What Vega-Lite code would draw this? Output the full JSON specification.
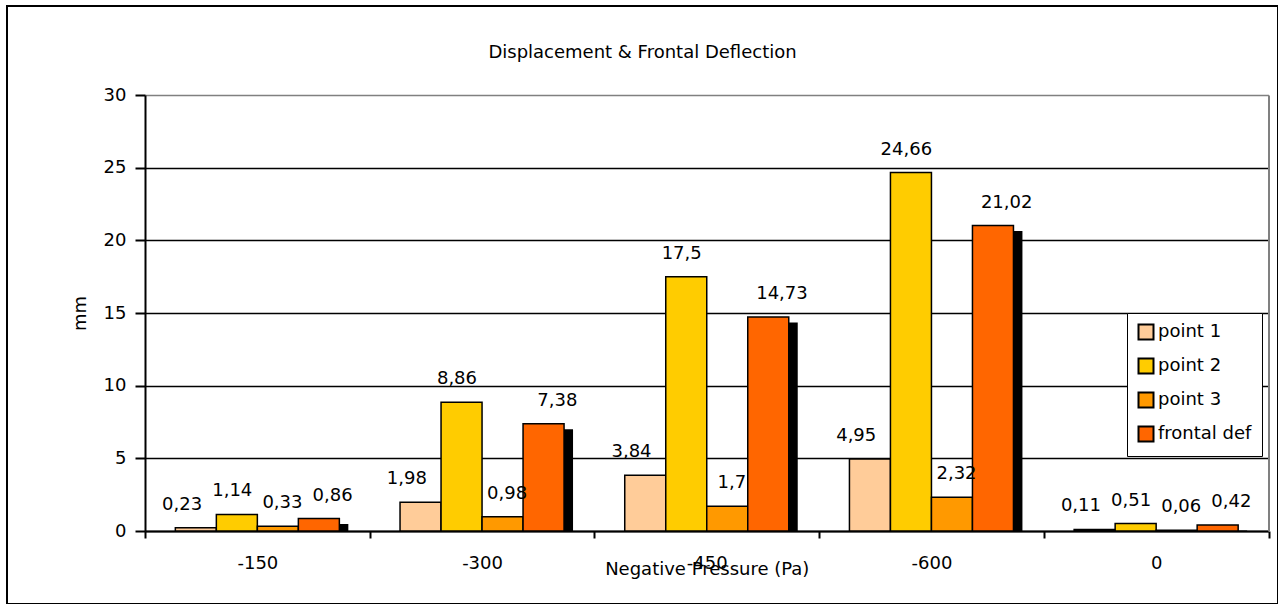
{
  "$schema": "https://vega.github.io/schema/vega-lite/v6.json",
  "autosize": {"type": "none"},
  "padding": {"left": 7, "top": 6, "right": 0, "bottom": 0},
  "width": 1271,
  "height": 598,
  "background": "white",
  "title": {
    "text": "Displacement & Frontal Deflection",
    "fontSize": 18,
    "fontWeight": "normal",
    "color": "black",
    "anchor": "middle",
    "frame": "group",
    "baseline": "alphabetic",
    "offset": 0,
    "dy": 70
  },
  "config": {
    "font": "DejaVu Sans",
    "view": {"stroke": "black", "strokeWidth": 2, "fill": "white"}
  },
  "data": {
    "values": [
      {"pressure": "-150", "series": "point 1", "value": 0.23},
      {"pressure": "-150", "series": "point 2", "value": 1.14},
      {"pressure": "-150", "series": "point 3", "value": 0.33},
      {"pressure": "-150", "series": "frontal def", "value": 0.86},
      {"pressure": "-300", "series": "point 1", "value": 1.98},
      {"pressure": "-300", "series": "point 2", "value": 8.86},
      {"pressure": "-300", "series": "point 3", "value": 0.98},
      {"pressure": "-300", "series": "frontal def", "value": 7.38},
      {"pressure": "-450", "series": "point 1", "value": 3.84},
      {"pressure": "-450", "series": "point 2", "value": 17.5},
      {"pressure": "-450", "series": "point 3", "value": 1.7},
      {"pressure": "-450", "series": "frontal def", "value": 14.73},
      {"pressure": "-600", "series": "point 1", "value": 4.95},
      {"pressure": "-600", "series": "point 2", "value": 24.66},
      {"pressure": "-600", "series": "point 3", "value": 2.32},
      {"pressure": "-600", "series": "frontal def", "value": 21.02},
      {"pressure": "0", "series": "point 1", "value": 0.11},
      {"pressure": "0", "series": "point 2", "value": 0.51},
      {"pressure": "0", "series": "point 3", "value": 0.06},
      {"pressure": "0", "series": "frontal def", "value": 0.42}
    ]
  },
  "encoding": {
    "x": {
      "field": "pressure",
      "type": "nominal",
      "sort": ["-150", "-300", "-450", "-600", "0"],
      "scale": {"range": [138, 1261.5], "paddingInner": 0, "paddingOuter": 0},
      "axis": {
        "orient": "bottom",
        "offset": -73,
        "labelAngle": 0,
        "tickBand": "extent",
        "tickSize": 7,
        "tickWidth": 2,
        "tickColor": "black",
        "domainColor": "black",
        "domainWidth": 2,
        "grid": false,
        "labelFontSize": 18,
        "labelColor": "black",
        "labelPadding": 16,
        "title": "Negative Pressure (Pa)",
        "titleFontSize": 18,
        "titleFontWeight": "normal",
        "titleColor": "black",
        "titlePadding": -12
      }
    }
  },
  "layer": [
    {
      "transform": [{"filter": "datum.series === 'frontal def'"}],
      "mark": {"type": "bar", "color": "black", "yOffset": 5.5, "y2Offset": 0},
      "encoding": {
        "xOffset": {
          "field": "series",
          "type": "nominal",
          "scale": {"domain": ["point 1", "point 2", "point 3", "frontal def"], "paddingInner": 0, "paddingOuter": 0.74, "align": 0.648}
        },
        "y": {
          "field": "value",
          "type": "quantitative",
          "scale": {"domain": [0, 30], "range": [525, 89], "nice": false},
          "axis": {
            "orient": "right",
            "offset": -9.5,
            "domainColor": "#808080",
            "domainWidth": 2,
            "labels": false,
            "ticks": false,
            "grid": false,
            "title": null
          }
        },
        "y2": {"datum": 0}
      }
    },
    {
      "mark": {"type": "bar", "stroke": "black", "strokeWidth": 1.5},
      "encoding": {
        "xOffset": {
          "field": "series",
          "type": "nominal",
          "scale": {"domain": ["point 1", "point 2", "point 3", "frontal def"], "paddingInner": 0, "paddingOuter": 0.74}
        },
        "y": {
          "field": "value",
          "type": "quantitative",
          "axis": {
            "orient": "left",
            "offset": -138,
            "values": [0, 5, 10, 15, 20, 25, 30],
            "grid": true,
            "gridColor": {"condition": {"test": "datum.value === 30", "value": "#808080"}, "value": "black"},
            "gridWidth": 1.5,
            "gridOpacity": 1,
            "domainColor": "black",
            "domainWidth": 2,
            "tickColor": "black",
            "tickWidth": 2,
            "tickSize": 10,
            "labelFontSize": 18,
            "labelColor": "black",
            "labelPadding": 9,
            "title": "mm",
            "titleFontSize": 18,
            "titleFontWeight": "normal",
            "titleColor": "black",
            "titlePadding": 14
          }
        },
        "color": {
          "field": "series",
          "type": "nominal",
          "scale": {
            "domain": ["point 1", "point 2", "point 3", "frontal def"],
            "range": ["#FFCC99", "#FFCC00", "#FF9900", "#FF6600"]
          },
          "legend": {
            "orient": "none",
            "legendX": 1120,
            "legendY": 307,
            "title": null,
            "symbolType": "square",
            "symbolSize": 225,
            "symbolStrokeColor": "black",
            "symbolStrokeWidth": 2,
            "symbolOpacity": 1,
            "labelFontSize": 18,
            "labelColor": "black",
            "labelOffset": 3,
            "rowPadding": 10,
            "padding": 10,
            "strokeColor": "black",
            "fillColor": "white"
          }
        }
      }
    },
    {
      "transform": [{"calculate": "replace(format(datum.value, '~g'), '.', ',')", "as": "label"}],
      "mark": {"type": "text", "fontSize": 18, "color": "black", "baseline": "alphabetic", "align": "center", "dy": -18},
      "encoding": {
        "xOffset": {
          "field": "series",
          "type": "nominal",
          "scale": {"domain": ["point 1", "point 2", "point 3", "frontal def"], "paddingInner": 0, "paddingOuter": 0.74}
        },
        "y": {"field": "value", "type": "quantitative", "axis": null},
        "text": {"field": "label", "type": "nominal"}
      }
    }
  ],
  "resolve": {"axis": {"y": "independent"}, "scale": {"xOffset": "independent"}}
}
